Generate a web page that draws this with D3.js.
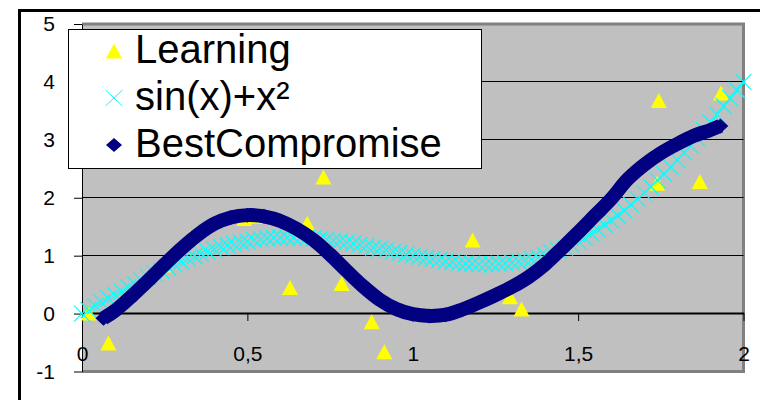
<!DOCTYPE html>
<html>
<head>
<meta charset="utf-8">
<script src="https://cdn.jsdelivr.net/npm/d3@7"></script>
<style>
  body { margin: 0; background: #fff; }
  svg { display: block; font-family: "Liberation Sans", Arial, sans-serif; }
</style>
</head>
<body>
<div id="chart"></div>
<script>
// Learning samples (yellow triangles)
const learnX = [0.02, 0.08, 0.245, 0.327, 0.49, 0.526, 0.629, 0.681, 0.73, 0.785, 0.876, 0.914, 1.181, 1.294, 1.329, 1.739, 1.744, 1.868, 1.932];
const learnY = [0.01, -0.51, 0.84, 1.31, 1.64, 1.68, 0.45, 1.56, 2.36, 0.52, -0.14, -0.66, 1.27, 0.29, 0.08, 2.25, 3.68, 2.28, 3.81];

// sin(x)+x² curve (cyan crosses)
const curveX = [0, 0.02, 0.04, 0.06, 0.08, 0.1, 0.12, 0.14, 0.16, 0.18, 0.2, 0.22, 0.24, 0.26, 0.28, 0.3, 0.32, 0.34, 0.36, 0.38, 0.4,
  0.42, 0.44, 0.46, 0.48, 0.5, 0.52, 0.54, 0.56, 0.58, 0.6, 0.62, 0.64, 0.66, 0.68, 0.7, 0.72, 0.74, 0.76, 0.78, 0.8,
  0.82, 0.84, 0.86, 0.88, 0.9, 0.92, 0.94, 0.96, 0.98, 1, 1.02, 1.04, 1.06, 1.08, 1.1, 1.12, 1.14, 1.16, 1.18, 1.2,
  1.22, 1.24, 1.26, 1.28, 1.3, 1.32, 1.34, 1.36, 1.38, 1.4, 1.42, 1.44, 1.46, 1.48, 1.5, 1.52, 1.54, 1.56, 1.58, 1.6,
  1.62, 1.64, 1.66, 1.68, 1.7, 1.72, 1.74, 1.76, 1.78, 1.8, 1.82, 1.84, 1.86, 1.88, 1.9, 1.92, 1.94, 1.96, 1.98, 2];
const curveY = [0, 0.06, 0.13, 0.19, 0.26, 0.32, 0.38, 0.45, 0.51, 0.57, 0.63, 0.69, 0.74, 0.80, 0.85, 0.90, 0.95, 0.99, 1.03, 1.07, 1.11,
  1.15, 1.18, 1.20, 1.23, 1.25, 1.27, 1.28, 1.30, 1.31, 1.31, 1.31, 1.31, 1.31, 1.31, 1.30, 1.29, 1.28, 1.26, 1.25, 1.23,
  1.21, 1.19, 1.17, 1.14, 1.12, 1.10, 1.07, 1.05, 1.02, 1.00, 0.98, 0.96, 0.94, 0.92, 0.90, 0.89, 0.87, 0.86, 0.86, 0.85,
  0.85, 0.85, 0.86, 0.87, 0.88, 0.90, 0.92, 0.94, 0.97, 1.01, 1.05, 1.09, 1.14, 1.19, 1.25, 1.31, 1.38, 1.45, 1.53, 1.61,
  1.69, 1.78, 1.88, 1.98, 2.08, 2.19, 2.30, 2.41, 2.53, 2.65, 2.78, 2.90, 3.03, 3.17, 3.30, 3.44, 3.58, 3.72, 3.86, 4.00];

// BestCompromise fit (navy diamonds)
const bestX = [0.065, 0.1, 0.15, 0.2, 0.25, 0.3, 0.35, 0.4, 0.45, 0.5, 0.55, 0.6, 0.65, 0.7, 0.75, 0.8, 0.85, 0.9, 0.95, 1,
  1.05, 1.1, 1.15, 1.2, 1.25, 1.3, 1.35, 1.4, 1.45, 1.5, 1.55, 1.6, 1.65, 1.7, 1.75, 1.8, 1.85, 1.9, 1.93];
const bestY = [-0.08, 0.05, 0.30, 0.57, 0.85, 1.12, 1.36, 1.55, 1.66, 1.70, 1.68, 1.60, 1.46, 1.27, 1.02, 0.74, 0.47, 0.24, 0.08, -0.01,
  -0.04, -0.02, 0.07, 0.19, 0.32, 0.46, 0.63, 0.85, 1.12, 1.40, 1.69, 1.98, 2.32, 2.57, 2.77, 2.93, 3.07, 3.17, 3.24];

const seriesNames = ["Learning", "sin(x)+x²", "BestCompromise"];
const xTicks = [0, 0.5, 1, 1.5, 2];
const xTickLabels = ["0", "0,5", "1", "1,5", "2"];
const yTicks = [-1, 0, 1, 2, 3, 4, 5];
const yTickLabels = ["-1", "0", "1", "2", "3", "4", "5"];
const gridValues = [1, 2, 3, 4];

const width = 760, height = 400;

let svg = d3.select("#chart").append("svg")
    .attr("width", width)
    .attr("height", height);

let x = d3.scaleLinear().domain([0, 2]).range([82, 743.5]),
    y = d3.scaleLinear().domain([-1, 5]).range([371.5, 24]);

let tri = "M0,-7.5L8,7.5L-8,7.5Z",
    cross = "M-8,-8L8,8M-8,8L8,-8",
    diamond = "M0,-7.5L8,0L0,7.5L-8,0Z";

// outer chart frame, runs off the right and bottom edges
svg.append("rect")
    .attr("x", 19.5).attr("y", 10.5)
    .attr("width", 800).attr("height", 450)
    .attr("fill", "none")
    .attr("stroke", "#000")
    .attr("stroke-width", 3);

// plot area
svg.append("rect")
    .attr("x", x(0)).attr("y", y(5))
    .attr("width", x(2) - x(0)).attr("height", y(-1) - y(5))
    .attr("fill", "#c0c0c0");

svg.append("path")
    .attr("d", "M" + x(0) + "," + y(5) + "H" + x(2) + "V" + y(-1) + "H" + x(0))
    .attr("fill", "none")
    .attr("stroke", "#808080")
    .attr("stroke-width", 3);

svg.append("g").selectAll("line")
    .data(gridValues)
    .join("line")
    .attr("x1", x(0)).attr("x2", x(2))
    .attr("y1", d => Math.floor(y(d)) + 0.5)
    .attr("y2", d => Math.floor(y(d)) + 0.5)
    .attr("stroke", "#000")
    .attr("stroke-width", 1);

// axes
let yAxis = svg.append("g")
    .attr("transform", "translate(" + x(0) + ",0)")
    .call(d3.axisLeft(y)
        .tickValues(yTicks)
        .tickFormat((d, i) => yTickLabels[i])
        .tickSizeInner(8)
        .tickSizeOuter(0)
        .tickPadding(19));

let xAxis = svg.append("g")
    .attr("transform", "translate(0," + Math.floor(y(0)) + ")")
    .call(d3.axisBottom(x)
        .tickValues(xTicks)
        .tickFormat((d, i) => xTickLabels[i])
        .tickSizeInner(8)
        .tickSizeOuter(0)
        .tickPadding(25));
xAxis.select(".domain").attr("stroke-width", 2);

[xAxis, yAxis].forEach(a => {
    a.attr("font-family", null).attr("font-size", 21);
    a.selectAll("text").attr("fill", "#000");
    a.selectAll("line").attr("stroke", "#000");
});

// Learning
svg.append("g").selectAll("path")
    .data(learnX)
    .join("path")
    .attr("d", tri)
    .attr("transform", (d, i) => "translate(" + x(d) + "," + y(learnY[i]) + ")")
    .attr("fill", "#ffff00");

// sin(x)+x²
svg.append("g").selectAll("path")
    .data(curveX)
    .join("path")
    .attr("d", cross)
    .attr("transform", (d, i) => "translate(" + x(d) + "," + y(curveY[i]) + ")")
    .attr("fill", "none")
    .attr("stroke", "#00ffff")
    .attr("stroke-width", 1.2);

// BestCompromise: dense diamonds form a thick band
let band = d3.line()
    .curve(d3.curveCatmullRom)
    .x(d => x(d))
    .y((d, i) => y(bestY[i]));

svg.append("path")
    .attr("d", band(bestX))
    .attr("fill", "none")
    .attr("stroke", "#000080")
    .attr("stroke-width", 14)
    .attr("stroke-linejoin", "round");

svg.append("g").selectAll("path")
    .data(bestX)
    .join("path")
    .attr("d", diamond)
    .attr("transform", (d, i) => "translate(" + x(d) + "," + y(bestY[i]) + ")")
    .attr("fill", "#000080");

// legend
let legend = svg.append("g");
legend.append("rect")
    .attr("x", 68.5).attr("y", 29.5)
    .attr("width", 413).attr("height", 139)
    .attr("fill", "#fff")
    .attr("stroke", "#000");

let markers = [
    { d: tri, fill: "#ffff00", stroke: "none" },
    { d: "M-8.5,-8L8.5,8M-8.5,8L8.5,-8", fill: "none", stroke: "#00ffff" },
    { d: "M0,-7L8,0L0,7L-8,0Z", fill: "#000080", stroke: "none" }
];

let item = legend.selectAll(".item")
    .data(seriesNames)
    .join("g")
    .attr("class", "item")
    .attr("transform", (d, i) => "translate(0," + (i * 47) + ")");

item.append("path")
    .attr("d", (d, i) => markers[i].d)
    .attr("transform", "translate(114,51)")
    .attr("fill", (d, i) => markers[i].fill)
    .attr("stroke", (d, i) => markers[i].stroke);

item.append("text")
    .attr("x", 135)
    .attr("y", 63)
    .attr("font-size", 40)
    .attr("fill", "#000")
    .text(d => d);
</script>
</body>
</html>
